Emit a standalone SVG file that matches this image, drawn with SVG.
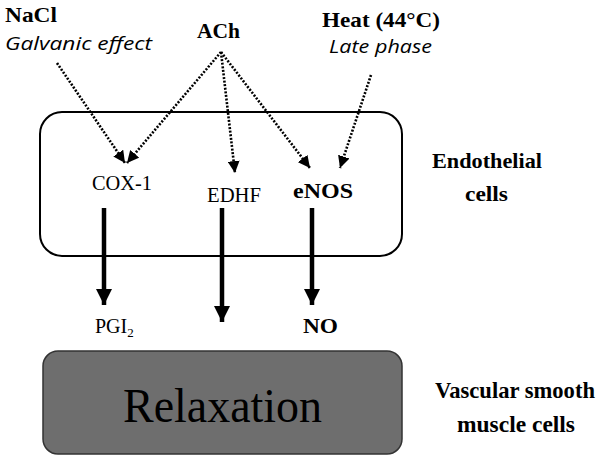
<svg xmlns="http://www.w3.org/2000/svg" width="600" height="459" viewBox="0 0 600 459">
<defs>
<style>
.serif{font-family:"Liberation Serif","Times New Roman",serif;fill:#000}
.b{font-weight:bold}
.it{font-family:"Open Sans","Liberation Sans",Arial,sans-serif;font-style:italic;fill:#000}
.dot{fill:none;stroke:#000;stroke-width:2.6;stroke-dasharray:2 1.6}
.thick{fill:none;stroke:#000;stroke-width:4.5}
</style>
<marker id="dh" viewBox="0 0 10 10" refX="10" refY="5" markerWidth="12" markerHeight="12" markerUnits="userSpaceOnUse" orient="auto">
<path d="M0,0 L10,5 L0,10 Z" fill="#000"/>
</marker>
<marker id="th" viewBox="0 0 10 10" refX="10" refY="5" markerWidth="16" markerHeight="17" markerUnits="userSpaceOnUse" orient="auto">
<path d="M0,0 L10,5 L0,10 Z" fill="#000"/>
</marker>
</defs>
<rect width="600" height="459" fill="#fff"/>
<g id="endothelial-box">
<rect x="40" y="112" width="362" height="144" rx="22" ry="22" fill="none" stroke="#000" stroke-width="2"/>
</g>
<g id="relaxation">
<rect x="43" y="351" width="359" height="103" rx="15" ry="15" fill="#6e6e6e" stroke="#333" stroke-width="1.5"/>
<text class="serif" x="123" y="422" font-size="48" textLength="199" lengthAdjust="spacingAndGlyphs">Relaxation</text>
</g>
<g id="nacl">
<text class="serif b" x="5" y="22" font-size="21" textLength="52" lengthAdjust="spacingAndGlyphs">NaCl</text>
<text class="it" x="5" y="50" font-size="19" textLength="147" lengthAdjust="spacingAndGlyphs">Galvanic effect</text>
</g>
<g id="ach">
<text class="serif b" x="197" y="38" font-size="21" textLength="43" lengthAdjust="spacingAndGlyphs">ACh</text>
</g>
<g id="heat">
<text class="serif b" x="322" y="27" font-size="21" textLength="118" lengthAdjust="spacingAndGlyphs">Heat (44°C)</text>
<text class="it" x="329" y="53" font-size="19" textLength="103" lengthAdjust="spacingAndGlyphs">Late phase</text>
</g>
<g id="cox1">
<text class="serif" x="92" y="190" font-size="20" textLength="60" lengthAdjust="spacingAndGlyphs">COX-1</text>
</g>
<g id="edhf">
<text class="serif" x="207" y="202" font-size="20" textLength="54" lengthAdjust="spacingAndGlyphs">EDHF</text>
</g>
<g id="enos">
<text class="serif b" x="293" y="198" font-size="21" textLength="60" lengthAdjust="spacingAndGlyphs">eNOS</text>
</g>
<g id="pgi2">
<text class="serif" x="95" y="333" font-size="20">PGI<tspan font-size="13" dy="4">2</tspan></text>
</g>
<g id="no">
<text class="serif b" x="303" y="333" font-size="21" textLength="35" lengthAdjust="spacingAndGlyphs">NO</text>
</g>
<g id="endothelial-label">
<text class="serif b" x="432" y="168" font-size="21" textLength="110" lengthAdjust="spacingAndGlyphs">Endothelial</text>
<text class="serif b" x="465" y="201" font-size="21" textLength="43" lengthAdjust="spacingAndGlyphs">cells</text>
</g>
<g id="vsmc-label">
<text class="serif b" x="435" y="398" font-size="23" textLength="160" lengthAdjust="spacingAndGlyphs">Vascular smooth</text>
<text class="serif b" x="457" y="432" font-size="23" textLength="118" lengthAdjust="spacingAndGlyphs">muscle cells</text>
</g>
<g id="connectors">
<path class="dot" d="M57,63 L125,163" marker-end="url(#dh)"/>
<path class="dot" d="M221,52 L127,163" marker-end="url(#dh)"/>
<path class="dot" d="M221,52 L235,173" marker-end="url(#dh)"/>
<path class="dot" d="M221,52 L310,168" marker-end="url(#dh)"/>
<path class="dot" d="M371,75 L340,168" marker-end="url(#dh)"/>
<path class="thick" d="M104,208 L104,305" marker-end="url(#th)"/>
<path class="thick" d="M222,208 L222,322" marker-end="url(#th)"/>
<path class="thick" d="M312,208 L312,305" marker-end="url(#th)"/>
</g>
</svg>
